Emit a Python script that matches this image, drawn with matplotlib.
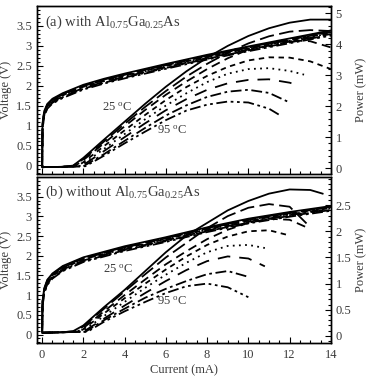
import numpy as np
import matplotlib.pyplot as plt
from matplotlib.ticker import MultipleLocator

plt.rcParams['font.family'] = 'Liberation Serif'
plt.rcParams['mathtext.fontset'] = 'custom'
plt.rcParams['mathtext.rm'] = 'Liberation Serif'
plt.rcParams['mathtext.it'] = 'Liberation Serif:italic'

TXT = '#3a3a3a'

# temperatures 25..95 C, one line style each
temps = [25, 35, 45, 55, 65, 75, 85, 95]
styles = ['-', (0, (8, 3)), (0, (5, 3)), (0, (3, 2.5)), (0, (1, 2.4)),
          (0, (7, 5)), (0, (6, 2, 1.5, 2)), (0, (6, 2, 1.5, 2, 1.5, 2))]

# ---- voltage curves (left axis), same current grid
v_cur = [0, 0.02, 0.1, 0.25, 0.5, 1, 2, 3, 4, 6, 8, 10, 12, 14]

volt_a = [
    [-0.03, 1.05, 1.36, 1.54, 1.67, 1.81, 2.02, 2.17, 2.30, 2.54, 2.77, 2.98, 3.18, 3.38],
    [-0.03, 1.03, 1.34, 1.52, 1.65, 1.79, 2.00, 2.15, 2.28, 2.52, 2.75, 2.96, 3.16, 3.36],
    [-0.03, 1.01, 1.33, 1.51, 1.64, 1.78, 1.99, 2.14, 2.27, 2.51, 2.74, 2.95, 3.15, 3.34],
    [-0.03, 0.99, 1.31, 1.49, 1.62, 1.76, 1.97, 2.12, 2.25, 2.49, 2.72, 2.93, 3.13, 3.32],
    [-0.03, 0.97, 1.29, 1.48, 1.61, 1.75, 1.96, 2.11, 2.24, 2.48, 2.71, 2.92, 3.12, 3.31],
    [-0.03, 0.95, 1.27, 1.46, 1.59, 1.73, 1.94, 2.09, 2.22, 2.46, 2.69, 2.90, 3.10, 3.29],
    [-0.03, 0.93, 1.25, 1.44, 1.57, 1.71, 1.92, 2.07, 2.20, 2.44, 2.67, 2.88, 3.08, 3.27],
    [-0.03, 0.91, 1.23, 1.42, 1.55, 1.69, 1.90, 2.05, 2.18, 2.42, 2.65, 2.86, 3.06, 3.25],
]

volt_b = [
    [0.07, 0.85, 1.17, 1.39, 1.55, 1.74, 1.96, 2.10, 2.24, 2.47, 2.72, 2.94, 3.11, 3.26],
    [0.07, 0.83, 1.15, 1.37, 1.53, 1.72, 1.94, 2.08, 2.22, 2.45, 2.70, 2.92, 3.09, 3.24],
    [0.07, 0.81, 1.13, 1.35, 1.51, 1.70, 1.93, 2.07, 2.21, 2.44, 2.69, 2.91, 3.08, 3.23],
    [0.07, 0.79, 1.11, 1.33, 1.49, 1.68, 1.91, 2.05, 2.19, 2.42, 2.67, 2.89, 3.06, 3.21],
    [0.07, 0.77, 1.10, 1.32, 1.48, 1.67, 1.90, 2.04, 2.18, 2.41, 2.66, 2.88, 3.05, 3.20],
    [0.07, 0.75, 1.08, 1.30, 1.46, 1.65, 1.88, 2.02, 2.16, 2.39, 2.64, 2.86, 3.03, 3.18],
    [0.07, 0.73, 1.06, 1.28, 1.44, 1.63, 1.86, 2.00, 2.14, 2.37, 2.62, 2.84, 3.01, 3.16],
    [0.07, 0.71, 1.04, 1.26, 1.42, 1.61, 1.84, 1.98, 2.12, 2.35, 2.60, 2.82, 2.99, 3.14],
]

# ---- power curves (right axis), current / power per temperature
pcur_a = [
    [0, 1, 1.5, 2, 3, 4, 5, 6, 7, 8, 9, 10, 11, 12, 13, 14],
    [0, 1, 1.5, 2, 3, 4, 5, 6, 7, 8, 9, 10, 11, 12, 13, 14],
    [0, 1, 1.6, 2, 3, 4, 5, 6, 7, 8, 9, 10, 11, 12, 13, 14],
    [0, 1, 1.7, 2, 3, 4, 5, 6, 7, 8, 9, 10, 11, 12, 13, 14],
    [0, 1, 1.8, 2, 3, 4, 5, 6, 7, 8, 9, 10, 11, 12, 12.7],
    [0, 1, 1.9, 2, 3, 4, 5, 6, 7, 8, 9, 10, 11, 12, 12.1],
    [0, 1, 2.0, 3, 4, 5, 6, 7, 8, 9, 10, 11, 12],
    [0, 1, 2.1, 3, 4, 5, 6, 7, 8, 9, 10, 11, 11.6],
]
power_a = [
    [0.03, 0.04, 0.08, 0.33, 0.92, 1.50, 2.08, 2.63, 3.13, 3.57, 3.95, 4.27, 4.52, 4.70, 4.80, 4.80],
    [0.03, 0.04, 0.07, 0.29, 0.86, 1.43, 1.98, 2.49, 2.96, 3.37, 3.73, 4.03, 4.26, 4.41, 4.46, 4.43],
    [0.03, 0.04, 0.07, 0.26, 0.80, 1.35, 1.88, 2.37, 2.80, 3.20, 3.55, 3.83, 4.03, 4.13, 4.10, 3.90],
    [0.03, 0.04, 0.06, 0.19, 0.71, 1.22, 1.72, 2.20, 2.62, 2.98, 3.27, 3.48, 3.58, 3.57, 3.45, 3.20],
    [0.03, 0.04, 0.06, 0.14, 0.62, 1.10, 1.58, 2.02, 2.42, 2.78, 3.05, 3.20, 3.23, 3.14, 3.02],
    [0.03, 0.04, 0.06, 0.10, 0.55, 1.00, 1.45, 1.87, 2.23, 2.53, 2.74, 2.85, 2.87, 2.76, 2.74],
    [0.03, 0.04, 0.06, 0.45, 0.88, 1.30, 1.70, 2.03, 2.30, 2.47, 2.53, 2.43, 2.12],
    [0.03, 0.04, 0.06, 0.40, 0.80, 1.18, 1.55, 1.86, 2.05, 2.15, 2.12, 1.92, 1.68],
]

pcur_b = [
    [0, 1, 1.5, 2, 3, 4, 5, 6, 7, 8, 9, 10, 11, 12, 13, 13.6],
    [0, 1, 1.6, 2, 3, 4, 5, 6, 7, 8, 9, 10, 11, 12, 13],
    [0, 1, 1.7, 2, 3, 4, 5, 6, 7, 8, 9, 10, 11, 12, 12.8],
    [0, 1, 1.8, 2, 3, 4, 5, 6, 7, 8, 9, 10, 11, 12],
    [0, 1, 1.9, 2, 3, 4, 5, 6, 7, 8, 9, 10, 10.8],
    [0, 1, 2.0, 3, 4, 5, 6, 7, 8, 9, 10, 10.8],
    [0, 1, 2.1, 3, 4, 5, 6, 7, 8, 9, 9.9],
    [0, 1, 2.2, 3, 4, 5, 6, 7, 8, 9, 10],
]
power_b = [
    [0.06, 0.07, 0.09, 0.20, 0.55, 0.88, 1.24, 1.60, 1.92, 2.16, 2.40, 2.58, 2.72, 2.80, 2.79, 2.72],
    [0.06, 0.07, 0.09, 0.18, 0.52, 0.85, 1.18, 1.50, 1.78, 2.06, 2.29, 2.45, 2.52, 2.47, 2.08],
    [0.06, 0.07, 0.08, 0.15, 0.47, 0.78, 1.08, 1.37, 1.62, 1.85, 2.03, 2.16, 2.24, 2.22, 2.08],
    [0.06, 0.07, 0.08, 0.13, 0.43, 0.72, 1.00, 1.27, 1.52, 1.74, 1.90, 2.00, 2.02, 1.92],
    [0.06, 0.07, 0.08, 0.10, 0.38, 0.65, 0.92, 1.17, 1.40, 1.60, 1.72, 1.74, 1.68],
    [0.06, 0.07, 0.08, 0.33, 0.58, 0.82, 1.05, 1.26, 1.43, 1.52, 1.48, 1.33],
    [0.06, 0.07, 0.08, 0.30, 0.52, 0.73, 0.90, 1.05, 1.18, 1.24, 1.14],
    [0.06, 0.07, 0.08, 0.27, 0.47, 0.65, 0.82, 0.95, 1.00, 0.93, 0.74],
]


def style_axes(ax, axr, show_x):
    ax.set_xlim(-0.25, 14)
    ax.set_ylim(-0.22, 4.0)
    ax.xaxis.set_major_locator(MultipleLocator(2))
    ax.xaxis.set_minor_locator(MultipleLocator(0.5))
    ax.yaxis.set_major_locator(MultipleLocator(0.5))
    ax.yaxis.set_minor_locator(MultipleLocator(0.1))
    ax.tick_params(which='both', direction='in', top=False, right=False,
                   colors='black', labelcolor=TXT, labelsize=9, width=0.8)
    ax.tick_params(which='major', length=4.5)
    ax.tick_params(which='minor', length=2.5)
    ax.tick_params(axis='x', labelbottom=show_x, pad=4)
    ax.set_yticks([0, 0.5, 1, 1.5, 2, 2.5, 3, 3.5])
    ax.set_yticklabels(['0', '0.5', '1', '1.5', '2', '2.5', '3', '3.5'])
    ax.set_ylabel('Voltage (V)', fontsize=9, color=TXT)
    ax.yaxis.set_label_coords(-0.086, 0.5)
    axr.tick_params(which='both', direction='in', colors='black',
                    labelcolor=TXT, labelsize=9, width=0.8)
    axr.tick_params(which='major', length=4.5)
    axr.tick_params(which='minor', length=2.5)
    axr.set_ylabel('Power (mW)', fontsize=9, color=TXT)
    axr.yaxis.set_label_coords(1.083, 0.5)
    for a in (ax, axr):
        for s in a.spines.values():
            s.set_linewidth(1.0)


fig = plt.figure(figsize=(3.66, 3.78), dpi=100)
ax_a = fig.add_axes([0.101, 0.539, 0.803, 0.446])
ax_b = fig.add_axes([0.101, 0.092, 0.803, 0.440])
axr_a = ax_a.twinx()
axr_b = ax_b.twinx()

for ax, axr, volts, pcur, power in [(ax_a, axr_a, volt_a, pcur_a, power_a),
                                    (ax_b, axr_b, volt_b, pcur_b, power_b)]:
    for i in range(len(temps)):
        ax.plot(v_cur, volts[i], color='black', lw=1.3, linestyle=styles[i])
        axr.plot(pcur[i], power[i], color='black', lw=1.3, linestyle=styles[i])

style_axes(ax_a, axr_a, False)
style_axes(ax_b, axr_b, True)

axr_a.set_ylim(-0.2, 5.25)
axr_a.yaxis.set_major_locator(MultipleLocator(1))
axr_a.yaxis.set_minor_locator(MultipleLocator(0.2))
axr_b.set_ylim(-0.14, 3.04)
axr_b.set_yticks([0, 0.5, 1, 1.5, 2, 2.5])
axr_b.set_yticklabels(['0', '0.5', '1', '1.5', '2', '2.5'])
axr_b.yaxis.set_minor_locator(MultipleLocator(0.1))

ax_b.set_xlabel('Current (mA)', fontsize=9, color=TXT, labelpad=2.5)

ax_a.text(0.027, 0.9, '(a) with Al$_{0.75}$Ga$_{0.25}$As', transform=ax_a.transAxes,
          fontsize=10.5, color=TXT, va='center')
ax_b.text(0.027, 0.905, '(b) without Al$_{0.75}$Ga$_{0.25}$As', transform=ax_b.transAxes,
          fontsize=10.5, color=TXT, va='center')

ax_a.text(0.272, 0.394, '25 $^{\\mathrm{o}}$C', transform=ax_a.transAxes,
          fontsize=9, color=TXT, ha='center', va='center')
ax_a.text(0.46, 0.259, '95 $^{\\mathrm{o}}$C', transform=ax_a.transAxes,
          fontsize=9, color=TXT, ha='center', va='center')
ax_b.text(0.276, 0.44, '25 $^{\\mathrm{o}}$C', transform=ax_b.transAxes,
          fontsize=9, color=TXT, ha='center', va='center')
ax_b.text(0.46, 0.247, '95 $^{\\mathrm{o}}$C', transform=ax_b.transAxes,
          fontsize=9, color=TXT, ha='center', va='center')

fig.savefig('out.png', dpi=100)
